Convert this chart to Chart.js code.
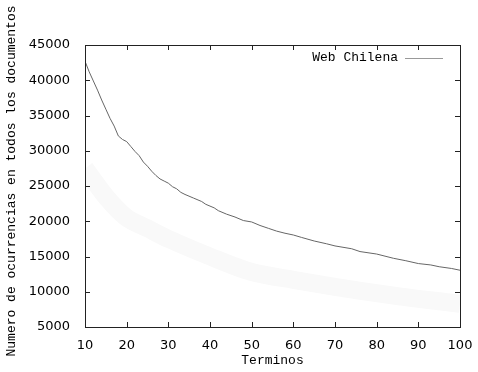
<!DOCTYPE html>
<html>
<head>
<meta charset="utf-8">
<script src="https://cdn.jsdelivr.net/npm/chart.js@4"></script>
<style>
  html, body { margin: 0; padding: 0; background: #fff; }
  #wrap { width: 478px; height: 372px; }
</style>
</head>
<body>
<div id="wrap"><canvas id="myChart" width="478" height="372"></canvas></div>
<script>
// terms (x) and occurrences for the main series
const terms = [10, 11, 12, 13, 14, 15, 16, 17, 18, 19, 20, 21, 22, 23, 24, 25, 26, 27, 28, 29,
  30, 31, 32, 33, 34, 36, 38, 39, 41, 42, 44, 46, 48, 50, 52, 54, 56, 58, 60, 62,
  65, 68, 70, 74, 76, 80, 84, 87, 90, 93, 95, 98, 100];
const occurrences = [42700, 41200, 39900, 38600, 37200, 35900, 34600, 33500, 32100, 31600,
  31300, 30600, 29900, 29300, 28400, 27800, 27100, 26500, 26000, 25700,
  25400, 24900, 24600, 24100, 23800, 23300, 22800, 22400, 21900, 21500,
  21000, 20600, 20100, 19900, 19400, 19000, 18600, 18300, 18050, 17700,
  17200, 16800, 16500, 16100, 15700, 15350, 14750, 14400, 14000, 13800,
  13550, 13300, 13050];

// faint light-grey band under the main curve
const bandTerms = [10, 15, 20, 25, 30, 40, 50, 60, 70, 80, 90, 100];
const bandValues = [27500, 23500, 20500, 19000, 17500, 15000, 12800, 11700, 10700, 9800, 9000, 8300];

const seriesLabel = 'Web Chilena';
const xTicks = [10, 20, 30, 40, 50, 60, 70, 80, 90, 100];
const yTicks = [5000, 10000, 15000, 20000, 25000, 30000, 35000, 40000, 45000];

const mono = '"Liberation Mono", "DejaVu Sans Mono", monospace';

// gnuplot-style frame: inward ticks on all sides, titles and key
const gnuplotFrame = {
  id: 'gnuplotFrame',
  afterDraw(chart) {
    const { ctx, chartArea: a, scales } = chart;
    ctx.save();
    ctx.strokeStyle = '#222';
    ctx.lineWidth = 1;
    ctx.strokeRect(a.left + 0.5, a.top + 0.5, a.right - a.left, a.bottom - a.top);
    ctx.beginPath();
    xTicks.forEach(v => {
      const px = Math.round(scales.x.getPixelForValue(v)) + 0.5;
      ctx.moveTo(px, a.bottom); ctx.lineTo(px, a.bottom - 5);
      ctx.moveTo(px, a.top); ctx.lineTo(px, a.top + 5);
    });
    yTicks.forEach(v => {
      const py = Math.round(scales.y.getPixelForValue(v)) + 0.5;
      ctx.moveTo(a.left, py); ctx.lineTo(a.left + 5, py);
      ctx.moveTo(a.right, py); ctx.lineTo(a.right - 5, py);
    });
    ctx.stroke();

    ctx.fillStyle = '#000';
    ctx.font = '13px ' + mono;
    ctx.textAlign = 'center';
    ctx.textBaseline = 'middle';
    ctx.fillText('Terminos', (a.left + a.right) / 2, 361);
    ctx.save();
    ctx.translate(12, 181);
    ctx.rotate(-Math.PI / 2);
    ctx.fillText('Numero de ocurrencias en todos los documentos', 0, 0);
    ctx.restore();

    // key
    ctx.textAlign = 'right';
    ctx.fillText(seriesLabel, 398, 58);
    ctx.strokeStyle = '#999';
    ctx.beginPath();
    ctx.moveTo(405, 58.5); ctx.lineTo(443, 58.5);
    ctx.stroke();
    ctx.restore();
  }
};

new Chart(document.getElementById('myChart'), {
  type: 'line',
  data: {
    datasets: [{
      label: seriesLabel,
      data: terms.map((t, i) => ({ x: t, y: occurrences[i] })),
      borderColor: '#666',
      borderWidth: 1,
      pointRadius: 0,
      tension: 0,
      order: 1
    }, {
      label: 'band',
      data: bandTerms.map((t, i) => ({ x: t, y: bandValues[i] })),
      borderColor: '#f9f9f9',
      borderWidth: 18,
      pointRadius: 0,
      tension: 0.3,
      order: 2
    }]
  },
  options: {
    responsive: false,
    animation: false,
    layout: { padding: { left: 0, right: 18, top: 45, bottom: 0 } },
    plugins: { legend: { display: false }, tooltip: { enabled: false } },
    scales: {
      x: {
        type: 'linear', min: 10, max: 100,
        afterFit: s => { s.height = 45; },
        afterBuildTicks: s => { s.ticks = xTicks.map(v => ({ value: v })); },
        grid: { display: false },
        border: { display: false },
        ticks: { color: '#000', font: { family: '"DejaVu Sans"', size: 13 }, padding: 3, maxRotation: 0,
          callback: v => String(v) }
      },
      y: {
        min: 5000, max: 45000,
        afterFit: s => { s.width = 85; },
        afterBuildTicks: s => { s.ticks = yTicks.map(v => ({ value: v })); },
        grid: { display: false },
        border: { display: false },
        ticks: { color: '#000', font: { family: '"DejaVu Sans"', size: 13 }, padding: 7,
          callback: v => String(v) }
      }
    }
  },
  plugins: [gnuplotFrame]
});
</script>
</body>
</html>
